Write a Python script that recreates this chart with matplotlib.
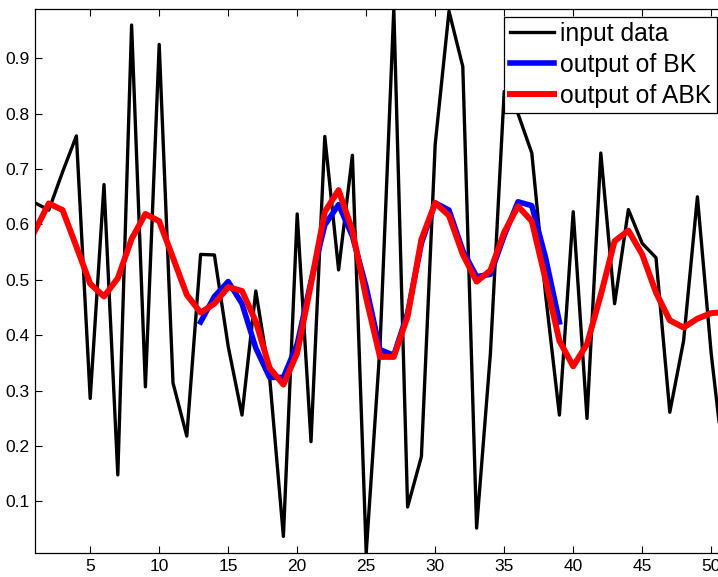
import numpy as np
import matplotlib
matplotlib.use('Agg')
import matplotlib.pyplot as plt


input_data = [0.639, 0.626, 0.695, 0.760, 0.286, 0.672, 0.148, 0.960, 0.307, 0.925,
              0.314, 0.218, 0.546, 0.545, 0.380, 0.256, 0.480, 0.325, 0.037, 0.619,
              0.208, 0.759, 0.518, 0.725, 0.007, 0.380, 0.989, 0.090, 0.181, 0.745,
              0.985, 0.885, 0.052, 0.367, 0.840, 0.800, 0.729, 0.473, 0.256, 0.623,
              0.250, 0.729, 0.457, 0.627, 0.566, 0.540, 0.261, 0.390, 0.650, 0.367,
              0.150]

bk_start = 13
bk_output = [0.424, 0.470, 0.497, 0.457, 0.377, 0.324, 0.324, 0.384, 0.497, 0.599,
             0.636, 0.579, 0.487, 0.374, 0.364, 0.440, 0.566, 0.639, 0.626, 0.553,
             0.506, 0.510, 0.580, 0.641, 0.634, 0.540, 0.424]

abk_output = [0.589, 0.638, 0.626, 0.560, 0.493, 0.470, 0.503, 0.574, 0.619, 0.606,
              0.540, 0.473, 0.441, 0.457, 0.487, 0.480, 0.425, 0.341, 0.311, 0.368,
              0.493, 0.623, 0.662, 0.589, 0.467, 0.361, 0.361, 0.434, 0.573, 0.639,
              0.616, 0.546, 0.497, 0.517, 0.586, 0.633, 0.606, 0.500, 0.390, 0.344,
              0.384, 0.473, 0.570, 0.589, 0.546, 0.477, 0.427, 0.414, 0.430, 0.440,
              0.442]

labels = ['input data', 'output of BK', 'output of ABK']
xticks = [5, 10, 15, 20, 25, 30, 35, 40, 45, 50]
yticks = [0.1, 0.2, 0.3, 0.4, 0.5, 0.6, 0.7, 0.8, 0.9]


def main():
    plt.rcParams['font.family'] = ['Liberation Sans', 'DejaVu Sans']

    W, H = 718, 577
    fig = plt.figure(figsize=(W / 100, H / 100), dpi=100)

    # axes runs past the right edge like the cropped original
    px_per_unit = 13.8
    x0, xmax = 1, 52
    left = 35 / W
    bottom = (H - 553) / H
    width = (xmax - x0) * px_per_unit / W
    height = (553 - 9) / H
    ax = fig.add_axes([left, bottom, width, height])

    x = np.arange(1, len(input_data) + 1)
    xb = np.arange(bk_start, bk_start + len(bk_output))

    ax.plot(x, input_data, color='black', lw=2.4, label=labels[0])
    ax.plot(xb, bk_output, color='blue', lw=4.0, label=labels[1])
    ax.plot(x, abk_output, color='red', lw=4.3, label=labels[2])

    ax.set_xlim(x0, xmax)
    ax.set_ylim(min(input_data), max(input_data))
    ax.set_xticks(xticks)
    ax.set_yticks(yticks)
    ax.set_yticklabels(['%.1f' % v for v in yticks])
    ax.tick_params(direction='in', length=5, width=0.8, labelsize=12.5,
                   top=True, right=True, pad=4)
    for s in ax.spines.values():
        s.set_linewidth(0.9)

    leg = ax.legend(loc='upper right', bbox_to_anchor=(717 / W, 1 - 16.7 / H),
                    bbox_transform=fig.transFigure, borderaxespad=0,
                    fontsize=17.8, frameon=True, fancybox=False, framealpha=1,
                    handlelength=1.8, handletextpad=0.25, labelspacing=0.28,
                    borderpad=0.22)
    leg.get_frame().set_edgecolor('black')
    leg.get_frame().set_linewidth(0.9)

    fig.savefig('out.png', dpi=100)


if __name__ == "__main__":
    main()
